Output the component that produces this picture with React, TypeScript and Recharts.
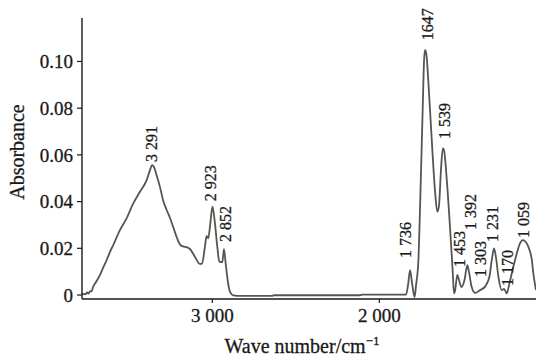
import { LineChart, Line, XAxis, YAxis, ReferenceDot } from "recharts";

// ── Spectrum (wave number / absorbance) ────────────────────────────────────
const waveNumbers = [
  3780, 3768, 3759, 3750, 3741, 3732, 3723, 3713, 3696, 3672, 3654, 3632, 3613, 3593,
  3553, 3513, 3473, 3433, 3393, 3373, 3361, 3349, 3334, 3313, 3293, 3273, 3253, 3233,
  3211, 3193, 3175, 3153, 3134, 3104, 3074, 3062, 3044, 3034, 3024, 3011, 2999, 2984,
  2970, 2958, 2940, 2930, 2920, 2908, 2894, 2874, 2852, 2642, 2631, 2116, 2103, 1840,
  1828, 1816, 1804, 1789, 1780, 1766, 1756, 1740, 1732, 1726, 1717, 1707, 1686, 1667,
  1653, 1643, 1631, 1620, 1613, 1596, 1577, 1560, 1553, 1547, 1533, 1523, 1508, 1490,
  1473, 1463, 1447, 1427, 1397, 1367, 1341, 1325, 1313, 1301, 1287, 1267, 1253, 1237,
  1223, 1207, 1177, 1158, 1141, 1128, 1108, 1087, 1078, 1062,
];
const absorbance = [
  0.0002, 0.0005, 0.0003, 0.0011, 0.0006, 0.0017, 0.0015, 0.0036, 0.0056, 0.0086, 0.0116, 0.015, 0.0184, 0.0214,
  0.0278, 0.0328, 0.0392, 0.0442, 0.0492, 0.0535, 0.0556, 0.0548, 0.0514, 0.0462, 0.0402, 0.0364, 0.033, 0.0289,
  0.0244, 0.0216, 0.0208, 0.0205, 0.0197, 0.0164, 0.0133, 0.0133, 0.0207, 0.0253, 0.0243, 0.0312, 0.0378, 0.0307,
  0.0207, 0.0143, 0.0141, 0.0196, 0.0136, 0.0064, 0.0014, -0.0002, -0.0004, -0.0004, -0.0001, -0.0001, 0.0002, 0.0002,
  0.0043, 0.0106, 0.0051, -0.0009, 0.0043, 0.015, 0.0378, 0.0806, 0.1006, 0.1049, 0.1023, 0.092, 0.0663, 0.0449,
  0.0357, 0.0381, 0.0535, 0.0628, 0.0621, 0.0492, 0.0292, 0.0093, 0.0007, 0.0017, 0.0086, 0.0064, 0.0034, 0.0064,
  0.0128, 0.0098, 0.0034, 0.0009, 0.0021, 0.0036, 0.0078, 0.0158, 0.02, 0.0158, 0.0078, 0.0021, 0.0026, 0.0007,
  0.0043, 0.0093, 0.0178, 0.0221, 0.0235, 0.0231, 0.0207, 0.015, 0.0093, 0.0021,
];

// peak annotations: text, anchor on the axis, absorbance where the text starts
const peakLabels = ["3 291", "2 923", "2 852", "1 736", "1647", "1 539", "1 453", "1 392", "1 303", "1 231", "1 170", "1 059"];
const peakWave   = [3361, 3010, 2918, 1846, 1714, 1610, 1517, 1457, 1394, 1325, 1235, 1134];
const peakAbs    = [0.0569, 0.0402, 0.0227, 0.0158, 0.1091, 0.0668, 0.012, 0.0278, 0.0077, 0.0227, 0.0039, 0.0244];

const xTicks = [3000, 2000];
const yTicks = [0, 0.02, 0.04, 0.06, 0.08, 0.1];

const data = waveNumbers.map((wn, i) => ({ wn, abs: absorbance[i] }));

const font = "'Liberation Serif', 'Times New Roman', serif";
const ink = "#1a1a1a";
const heavy = { stroke: ink, strokeWidth: 0.3 }; // scanned type looks a bit heavier

function PeakText({ cx, cy, text }: { cx?: number; cy?: number; text: string }) {
  if (cx == null || cy == null) return null;
  return (
    <text
      transform={`translate(${cx},${cy}) rotate(-90)`}
      dominantBaseline="central"
      textAnchor="start"
      fontFamily={font}
      fontSize={16}
      fill={ink}
      {...heavy}
    >
      {text}
    </text>
  );
}

export default function App() {
  return (
    <div style={{ position: "fixed", left: 0, top: 0, background: "#fff" }}>
      <LineChart width={536} height={356} data={data} margin={{ top: 18, right: 0, bottom: 0, left: 0 }}>
        <XAxis
          dataKey="wn"
          type="number"
          domain={[1062, 3780]}
          reversed
          ticks={xTicks}
          tickFormatter={(v: number) => `${Math.floor(v / 1000)} ${String(v % 1000).padStart(3, "0")}`}
          height={57}
          tickSize={4}
          tickMargin={6}
          axisLine={{ stroke: ink, strokeWidth: 1.4 }}
          tickLine={{ stroke: ink, strokeWidth: 1.2 }}
          tick={{ fontFamily: font, fontSize: 19, fill: ink, ...heavy }}
          label={{
            content: () => (
              <text x={302} y={353} textAnchor="middle" fontFamily={font} fontSize={20} fill={ink} {...heavy}>
                Wave number/cm
                <tspan dy={-8} fontSize={13}>−1</tspan>
              </text>
            ),
          }}
        />
        <YAxis
          type="number"
          domain={[-0.0017, 0.1186]}
          ticks={yTicks}
          tickFormatter={(v: number) => (v === 0 ? "0" : v.toFixed(2))}
          width={82}
          tickSize={5}
          tickMargin={4}
          axisLine={{ stroke: ink, strokeWidth: 1.4 }}
          tickLine={{ stroke: ink, strokeWidth: 1.2 }}
          tick={{ fontFamily: font, fontSize: 19, fill: ink, ...heavy }}
          label={{
            content: () => (
              <text
                transform="translate(17,152) rotate(-90)"
                textAnchor="middle"
                dominantBaseline="central"
                fontFamily={font}
                fontSize={20}
                fill={ink}
                {...heavy}
              >
                Absorbance
              </text>
            ),
          }}
        />
        <Line
          type="monotone"
          dataKey="abs"
          stroke="#555"
          strokeWidth={1.8}
          dot={false}
          activeDot={false}
          isAnimationActive={false}
        />
        {peakLabels.map((t, i) => (
          <ReferenceDot
            key={t}
            x={peakWave[i]}
            y={peakAbs[i]}
            r={0}
            shape={(p: { cx?: number; cy?: number }) => <PeakText cx={p.cx} cy={p.cy} text={t} />}
          />
        ))}
      </LineChart>
    </div>
  );
}
